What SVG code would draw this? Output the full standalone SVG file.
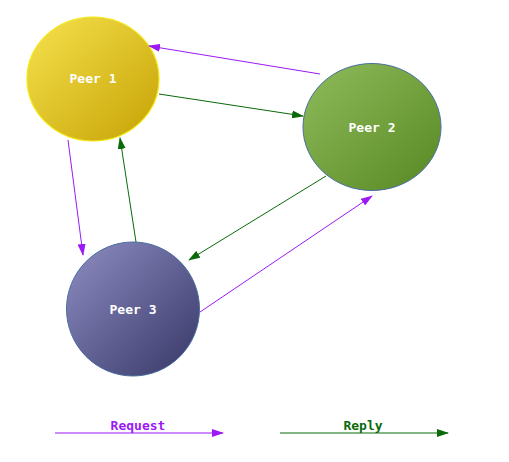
<svg xmlns="http://www.w3.org/2000/svg" width="509" height="462" viewBox="0 0 509 462">
<style>
.lbl{font-family:"DejaVu Sans Mono","Liberation Mono",monospace;font-size:13px;font-weight:bold;fill:#fff;text-anchor:middle}
.leg{font-family:"DejaVu Sans Mono","Liberation Mono",monospace;font-size:13px;font-weight:bold;text-anchor:middle}
.req{stroke:#9B19F5;stroke-width:1;fill:none;marker-end:url(#ap)}
.rep{stroke:#0A6A0A;stroke-width:1;fill:none;marker-end:url(#ag)}
</style>
<defs>
<linearGradient id="g1" x1="0" y1="0" x2="1" y2="1"><stop offset="0" stop-color="#F6E24E"/><stop offset="1" stop-color="#C6A204"/></linearGradient>
<linearGradient id="g2" x1="0" y1="0" x2="1" y2="1"><stop offset="0" stop-color="#90BC5C"/><stop offset="1" stop-color="#568822"/></linearGradient>
<linearGradient id="g3" x1="0" y1="0" x2="1" y2="1"><stop offset="0" stop-color="#8E8EC4"/><stop offset="1" stop-color="#363666"/></linearGradient>
<marker id="ap" markerWidth="12" markerHeight="8" refX="11" refY="4" orient="auto" markerUnits="userSpaceOnUse"><path d="M0,0 L12,4 L0,8 Z" fill="#9B19F5"/></marker>
<marker id="ag" markerWidth="12" markerHeight="8" refX="11" refY="4" orient="auto" markerUnits="userSpaceOnUse"><path d="M0,0 L12,4 L0,8 Z" fill="#0A6A0A"/></marker>
</defs>
<g id="peer1"><ellipse cx="93" cy="79" rx="66" ry="62" fill="url(#g1)" stroke="#F2EA10" stroke-width="1.2"/><text class="lbl" x="93" y="83">Peer 1</text></g>
<g id="peer2"><ellipse cx="372" cy="127" rx="69" ry="63.5" fill="url(#g2)" stroke="#4A6EA0" stroke-width="1"/><text class="lbl" x="372" y="132">Peer 2</text></g>
<g id="peer3"><ellipse cx="133" cy="309" rx="66.5" ry="67" fill="url(#g3)" stroke="#4A6EA0" stroke-width="1"/><text class="lbl" x="133" y="314">Peer 3</text></g>
<g id="connectors">
<line class="req" x1="320" y1="74" x2="149" y2="46"/>
<line class="rep" x1="159" y1="94" x2="303" y2="116"/>
<line class="req" x1="68" y1="140" x2="83" y2="255"/>
<line class="rep" x1="136" y1="242" x2="120" y2="138"/>
<line class="rep" x1="326" y1="176" x2="189" y2="260"/>
<line class="req" x1="200" y1="312" x2="372" y2="196"/>
</g>
<g id="legend">
<line class="req" x1="55" y1="433" x2="223" y2="433"/>
<text class="leg" x="138" y="430" fill="#9B19F5">Request</text>
<line class="rep" x1="280" y1="433" x2="448" y2="433"/>
<text class="leg" x="363" y="430" fill="#0A6A0A">Reply</text>
</g>
</svg>
